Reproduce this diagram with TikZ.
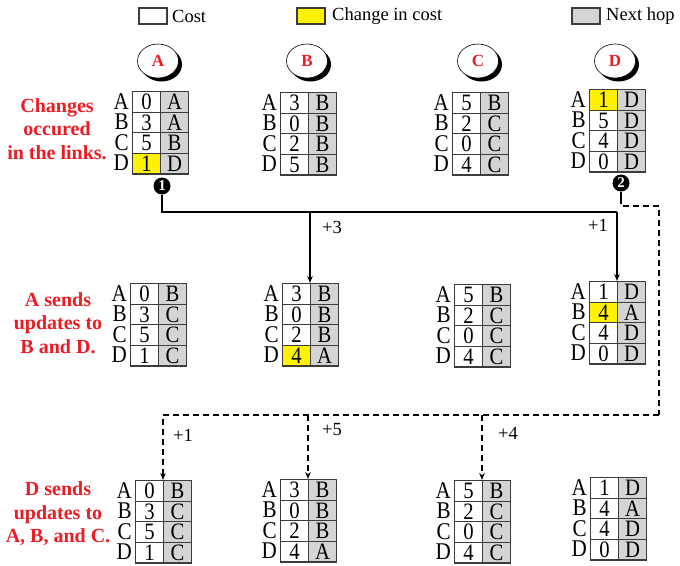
\documentclass[tikz,border=0pt]{standalone}
\usepackage{fontspec}
\setmainfont{Liberation Serif}
\newfontfamily\tablefam[FakeStretch=0.88]{Liberation Serif}
\usetikzlibrary{shapes.geometric,arrows.meta}

\definecolor{lsred}{RGB}{237,28,36}
\definecolor{hopgray}{RGB}{212,212,212}
\definecolor{chgyellow}{RGB}{255,242,0}
\definecolor{cellline}{RGB}{60,60,60}

\tikzset{
  cell/.style={draw=cellline, line width=1.2pt, minimum width=28pt, minimum height=20.6pt,
    inner sep=0pt, text height=15.6pt, text depth=0pt, font=\tablefam\fontsize{23.5}{24}\selectfont},
  costcell/.style={fill=white},
  chgcell/.style={fill=chgyellow},
  hopcell/.style={fill=hopgray},
  rowlab/.style={inner sep=0pt, text height=15.6pt, text depth=0pt, font=\tablefam\fontsize{24}{24}\selectfont},
  router/.style={ellipse, draw=black, line width=0.6pt, fill=white, minimum width=41pt,
    minimum height=34pt, inner sep=0pt, text=lsred, font=\bfseries\fontsize{17}{18}\selectfont},
  routershadow/.style={ellipse, fill=black, minimum width=41pt, minimum height=34pt, inner sep=0pt},
  steplabel/.style={align=center, text=lsred, font=\bfseries\fontsize{20}{23.5}\selectfont, inner sep=0pt},
  pin/.style={circle, fill=black, minimum size=17pt, inner sep=0pt, text=white,
    font=\bfseries\fontsize{15}{15}\selectfont},
  legbox/.style={draw=cellline, line width=1.2pt, minimum width=28pt, minimum height=16pt, inner sep=0pt},
  legtext/.style={anchor=west, inner sep=0pt, font=\fontsize{18.5}{20}\selectfont},
  bus/.style={line width=1.6pt},
  dbus/.style={line width=1.8pt, dash pattern=on 6pt off 4pt},
  tip/.style={-{Stealth[length=7pt,width=5.5pt]}},
  gain/.style={inner sep=0pt, font=\fontsize{18.5}{20}\selectfont},
}

% routing table: name, left x, top y, rows destination/cost/next hop/cost style
\newcommand{\rtable}[4]{%
  \foreach \dst/\cost/\hop/\kind [count=\i from 0] in {#4} {
    \node[cell, \kind, anchor=north west] (#1c\i) at (#2, #3+20.6*\i) {\cost};
    \node[cell, hopcell, anchor=north west] (#1h\i) at (#2+28, #3+20.6*\i) {\hop};
    \node[rowlab, anchor=east] (#1l\i) at (#2-3, #3+20.6*\i+10.3) {\dst};
  }
  \coordinate (#1n) at (#2+28, #3);
}

% router with a black crescent shadow below right
\newcommand{\router}[4]{%
  \node[routershadow] (#1s) at (#2+3.5, #3+3.5) {};
  \node[router] (#1) at (#2, #3) {#4};
}

\begin{document}
\begin{tikzpicture}[x=1pt, y=-1pt]
\useasboundingbox (0,0) rectangle (680,565);

% legend
\node[legbox, fill=white] (legc) at (153,16) {};
\node[legtext] (legct) at (172,16) {Cost};
\node[legbox, fill=chgyellow] (legy) at (311,16) {};
\node[legtext] (legyt) at (332,16) {Change in cost};
\node[legbox, fill=hopgray] (legh) at (586,16) {};
\node[legtext] (leght) at (606,16) {Next hop};

% routers
\router{rA}{158}{61}{A}
\router{rB}{307}{61}{B}
\router{rC}{478}{61}{C}
\router{rD}{615}{61}{D}

% step descriptions
\node[steplabel] (s1) at (57,129) {Changes\\occured\\in the links.};
\node[steplabel] (s2) at (58,323) {A sends\\updates to\\B and D.};
\node[steplabel] (s3) at (58,514) {D sends\\updates to\\A, B, and C.};

% tables after the link changes
\rtable{Ta}{132}{91}{A/0/A/costcell, B/3/A/costcell, C/5/B/costcell, D/1/D/chgcell}
\rtable{Tb}{280}{92}{A/3/B/costcell, B/0/B/costcell, C/2/B/costcell, D/5/B/costcell}
\rtable{Tc}{452}{92}{A/5/B/costcell, B/2/C/costcell, C/0/C/costcell, D/4/C/costcell}
\rtable{Td}{589}{89}{A/1/D/chgcell, B/5/D/costcell, C/4/D/costcell, D/0/D/costcell}

% tables after A's update
\rtable{Ua}{130}{283}{A/0/B/costcell, B/3/C/costcell, C/5/C/costcell, D/1/C/costcell}
\rtable{Ub}{282}{283}{A/3/B/costcell, B/0/B/costcell, C/2/B/costcell, D/4/A/chgcell}
\rtable{Uc}{454}{284}{A/5/B/costcell, B/2/C/costcell, C/0/C/costcell, D/4/C/costcell}
\rtable{Ud}{589}{281}{A/1/D/costcell, B/4/A/chgcell, C/4/D/costcell, D/0/D/costcell}

% tables after D's update
\rtable{Va}{135}{480}{A/0/B/costcell, B/3/C/costcell, C/5/C/costcell, D/1/C/costcell}
\rtable{Vb}{280}{479}{A/3/B/costcell, B/0/B/costcell, C/2/B/costcell, D/4/A/costcell}
\rtable{Vc}{454}{480}{A/5/B/costcell, B/2/C/costcell, C/0/C/costcell, D/4/C/costcell}
\rtable{Vd}{590}{477}{A/1/D/costcell, B/4/A/costcell, C/4/D/costcell, D/0/D/costcell}

% update from A
\coordinate (busAe) at (617,212);
\coordinate (busAb) at (310,212);
\node[pin] (pin1) at (162,186) {1};
\draw[bus] (pin1.south) |- (busAe);
\draw[bus, tip] (busAe) -- (Udn);
\draw[bus, tip] (busAb) -- (Ubn);
\node[gain] (g3) at (332,227) {+3};
\node[gain] (g1a) at (598,225) {+1};

% update from D
\node[pin] (pin2) at (621,183) {2};
\coordinate (stem2) at (621,198);
\coordinate (busDn) at (659,206);
\coordinate (busDs) at (659,415);
\coordinate (busDb) at (308,415);
\coordinate (busDc) at (482,415);
\draw[bus] (pin2.south) -- (stem2);
\draw[dbus] (stem2) |- (busDn) -- (busDs);
\draw[dbus, tip] (busDs) -| (Van);
\draw[dbus, tip] (busDb) -- (Vbn);
\draw[dbus, tip] (busDc) -- (Vcn);
\node[gain] (g1b) at (183,435) {+1};
\node[gain] (g5) at (332,430) {+5};
\node[gain] (g4) at (508,433) {+4};
\end{tikzpicture}
\end{document}
